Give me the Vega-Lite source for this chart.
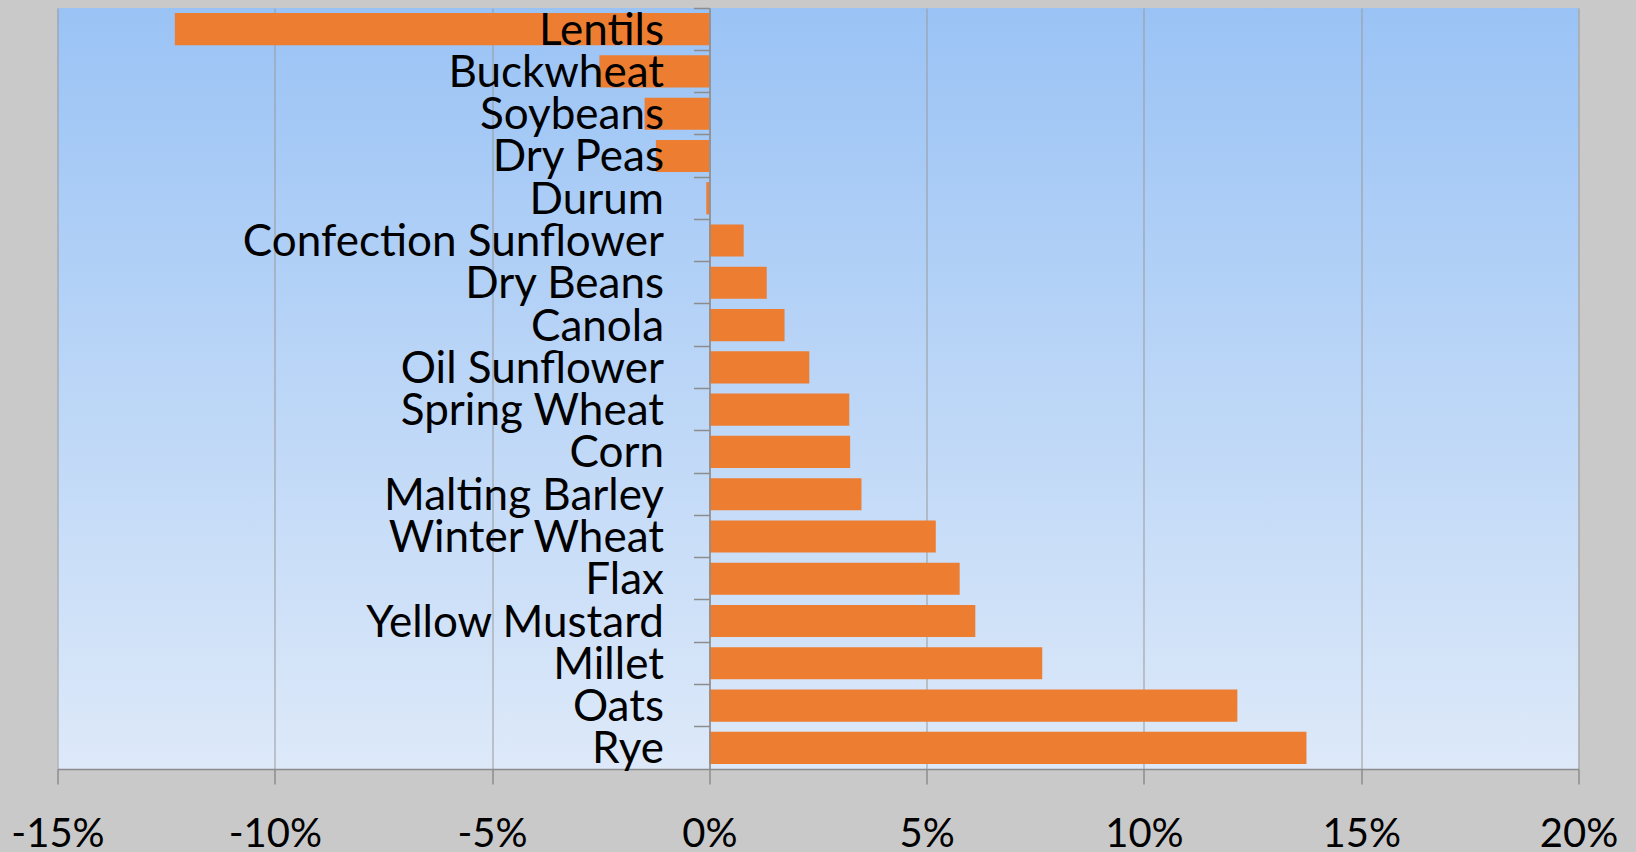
{
  "$schema": "https://vega.github.io/schema/vega-lite/v6.json",
  "width": 1521,
  "height": 761,
  "autosize": "none",
  "padding": {"left": 57.5, "top": 8, "right": 57.5, "bottom": 83},
  "background": "#C9C9C9",
  "view": {
    "fill": {"gradient": "linear", "x1": 0, "y1": 0, "x2": 0, "y2": 1,
      "stops": [{"offset": 0, "color": "#9AC3F5"}, {"offset": 1, "color": "#DDE9F9"}]},
    "stroke": null
  },
  "data": {"values": [
    {"crop": "Lentils", "change": -12.3},
    {"crop": "Buckwheat", "change": -2.53},
    {"crop": "Soybeans", "change": -1.49},
    {"crop": "Dry Peas", "change": -1.23},
    {"crop": "Durum", "change": -0.07},
    {"crop": "Confection Sunflower", "change": 0.79},
    {"crop": "Dry Beans", "change": 1.32},
    {"crop": "Canola", "change": 1.73},
    {"crop": "Oil Sunflower", "change": 2.3},
    {"crop": "Spring Wheat", "change": 3.22},
    {"crop": "Corn", "change": 3.24},
    {"crop": "Malting Barley", "change": 3.5},
    {"crop": "Winter Wheat", "change": 5.21},
    {"crop": "Flax", "change": 5.76},
    {"crop": "Yellow Mustard", "change": 6.12},
    {"crop": "Millet", "change": 7.66},
    {"crop": "Oats", "change": 12.15},
    {"crop": "Rye", "change": 13.74}
  ]},
  "mark": {"type": "bar", "color": "#ED7D31", "height": {"band": 0.76}},
  "encoding": {
    "y": {
      "field": "crop", "type": "nominal", "sort": null,
      "scale": {"paddingInner": 0, "paddingOuter": 0},
      "axis": {
        "title": null, "offset": -652, "zindex": 1, "bandPosition": 0,
        "domainColor": "#8C8C8C", "domainWidth": 1.5,
        "tickColor": "#8C8C8C", "tickSize": 16, "tickWidth": 1.5,
        "labelFont": "Lato", "labelFontSize": 44, "labelColor": "#000000",
        "labelPadding": 30, "labelLimit": 0, "labelOverlap": false, "labelOffset": 2.5
      }
    },
    "x": {
      "field": "change", "type": "quantitative",
      "scale": {"domain": [-15, 20], "nice": false, "zero": false},
      "axis": {
        "title": null, "values": [-15, -10, -5, 0, 5, 10, 15, 20],
        "labelExpr": "datum.value + '%'",
        "grid": true, "gridColor": "#999999", "gridWidth": 1,
        "domainColor": "#8C8C8C", "domainWidth": 1.5,
        "tickColor": "#8C8C8C", "tickSize": 15, "tickWidth": 1.5,
        "labelFont": "Lato", "labelFontSize": 40, "labelColor": "#000000",
        "labelPadding": 30, "labelFlush": false, "labelOverlap": false
      }
    }
  }
}
